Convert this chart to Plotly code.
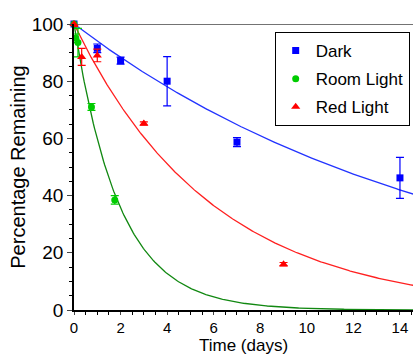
import numpy as np
import plotly.graph_objects as go

# Data
dark_t = [0, 1, 2, 4, 7, 14]
dark_y = [100, 91.5, 87.2, 80.0, 58.7, 46.2]
dark_err = [0.8, 1.5, 1.2, 8.6, 1.6, 7.2]

room_t = [0, 0.08, 0.17, 0.75, 1.75]
room_y = [100, 95.0, 93.5, 71.0, 38.5]
room_err = [1.0, 1.5, 5.0, 1.2, 1.5]

red_t = [0, 0.33, 1, 3, 9]
red_y = [100, 88.5, 89.0, 65.2, 16.0]
red_err = [0.8, 3.0, 2.2, 0.6, 0.6]

# Fitted first-order decay rate constants (1/day)
fit_k = {"Dark": 0.062, "Room Light": 0.515, "Red Light": 0.168}

x_ticks = [0, 2, 4, 6, 8, 10, 12, 14]
y_ticks = [0, 20, 40, 60, 80, 100]

font = "Liberation Sans, Arial, Helvetica, sans-serif"

fig = go.Figure()

t_fit = np.linspace(0, 14.6, 300)
curve_colors = {"Dark": "#2233ff", "Room Light": "#118811", "Red Light": "#ff2020"}
for name, k in fit_k.items():
    fig.add_trace(go.Scatter(x=t_fit, y=100 * np.exp(-k * t_fit), mode="lines",
                             line=dict(color=curve_colors[name], width=1.3),
                             showlegend=False, hoverinfo="skip"))

series = [
    ("Dark", dark_t, dark_y, dark_err, "#0000ff", "square", 7),
    ("Room Light", room_t, room_y, room_err, "#00cc00", "circle", 7),
    ("Red Light", red_t, red_y, red_err, "#ff0000", "triangle-up", 8),
]
for name, t, y, e, c, sym, sz in series:
    fig.add_trace(go.Scatter(
        x=t, y=y, mode="markers", name=name, legendgroup=name,
        marker=dict(color=c, symbol=sym, size=sz),
        error_y=dict(type="data", array=e, visible=True, color=c, thickness=1.2, width=4),
        cliponaxis=False,
    ))

fig.update_layout(
    width=413, height=355,
    margin=dict(l=74, r=0, t=24, b=45),
    paper_bgcolor="white", plot_bgcolor="white",
    font=dict(family=font, size=17, color="black"),
    showlegend=True,
    legend=dict(x=0.592, y=0.972, xanchor="left", yanchor="top",
                bordercolor="black", borderwidth=1, bgcolor="white",
                font=dict(size=17), tracegroupgap=3, itemwidth=30),
    xaxis=dict(range=[0, 14.56], tickvals=x_ticks, ticks="outside", ticklen=3,
               showgrid=False, zeroline=False, showline=True, linecolor="black",
               linewidth=1.5, tickfont=dict(size=15),
               minor=dict(dtick=0.5, ticks="outside", ticklen=3, tickcolor="black"),
               title=dict(text="Time (days)", font=dict(size=17), standoff=6)),
    yaxis=dict(range=[0, 100], tickvals=y_ticks, ticks="outside", ticklen=5,
               showgrid=False, zeroline=False, showline=True, linecolor="black",
               linewidth=1.5, tickfont=dict(size=19),
               minor=dict(dtick=5, ticks="outside", ticklen=3, tickcolor="black"),
               title=dict(text="Percentage Remaining", font=dict(size=20), standoff=1)),
    shapes=[dict(type="line", xref="paper", yref="y", x0=0, x1=1, y0=100, y1=100,
                 line=dict(color="#444", width=1.5), layer="below")],
)

# Remove the browser's default page margin so the figure fills the window exactly.
fig.write_html("out.html", config={"displayModeBar": False},
               post_script="document.body.style.margin='0';document.body.style.overflow='hidden';")
